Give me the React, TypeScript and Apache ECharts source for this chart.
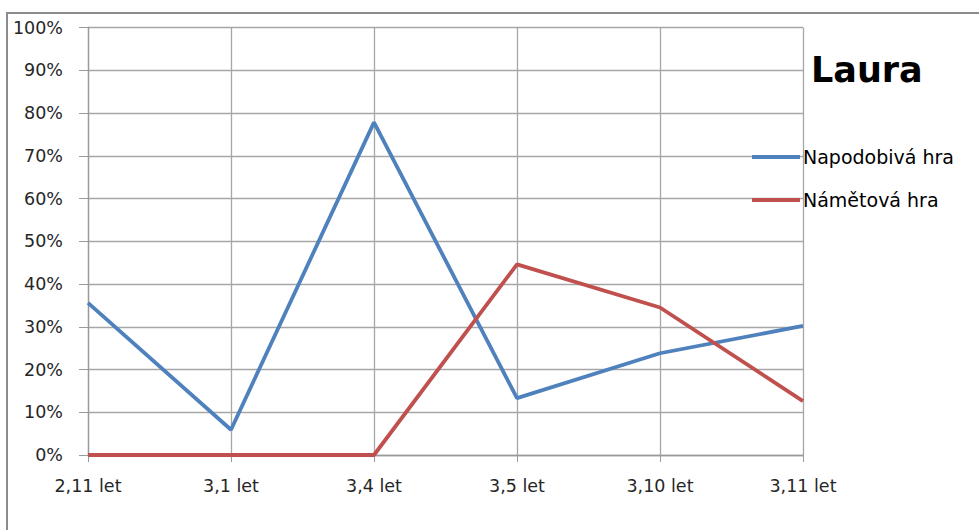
import React, { useEffect, useRef } from "react";
import * as echarts from "echarts";

const categories = ["2,11 let", "3,1 let", "3,4 let", "3,5 let", "3,10 let", "3,11 let"];
const imitativePlay = [35.6, 5.9, 77.8, 13.3, 23.8, 30.2];
const rolePlay = [0, 0, 0, 44.6, 34.5, 12.6];
const seriesNames = ["Napodobivá hra", "Námětová hra"];
const yTicks = { min: 0, max: 100, interval: 10 };

const FONT = "'DejaVu Sans', 'Liberation Sans', sans-serif";

export default function App() {
  const ref = useRef<HTMLDivElement>(null);

  useEffect(() => {
    if (!ref.current) return;
    const chart = echarts.init(ref.current, undefined, { renderer: "svg" });
    chart.setOption({
      animation: false,
      backgroundColor: "#ffffff",
      title: {
        text: "Laura",
        left: 806,
        top: 47,
        textStyle: { fontFamily: FONT, fontSize: 35, fontWeight: "bold", color: "#000000" },
      },
      graphic: [
        {
          type: "rect",
          shape: { x: 7, y: 13, width: 1000, height: 600 },
          style: { fill: "none", stroke: "#8c8c8c", lineWidth: 2 },
          silent: true,
        },
      ],
      legend: {
        orient: "vertical",
        left: 752,
        top: 147,
        padding: 0,
        itemGap: 23,
        itemWidth: 48,
        itemHeight: 4,
        icon: "rect",
        textStyle: {
          fontFamily: FONT,
          fontSize: 19,
          lineHeight: 20,
          color: "#000000",
          padding: [0, 0, 0, -2],
        },
        data: seriesNames,
      },
      grid: { left: 88, right: 176, top: 27.5, bottom: 75, containLabel: false },
      xAxis: {
        type: "category",
        data: categories,
        boundaryGap: false,
        axisLine: { lineStyle: { color: "#9a9a9a", width: 1.3 } },
        axisTick: { show: true, length: 7, lineStyle: { color: "#9a9a9a" } },
        axisLabel: { fontFamily: FONT, fontSize: 17.5, color: "#262626", margin: 22 },
        splitLine: { show: true, lineStyle: { color: "#a6a6a6", width: 1.3 } },
      },
      yAxis: {
        type: "value",
        min: yTicks.min,
        max: yTicks.max,
        interval: yTicks.interval,
        axisLine: { show: true, lineStyle: { color: "#9a9a9a", width: 1.3 } },
        axisTick: { show: true, length: 9, lineStyle: { color: "#9a9a9a" } },
        axisLabel: { fontFamily: FONT, fontSize: 17.5, color: "#262626", margin: 25, formatter: "{value}%" },
        splitLine: { show: true, lineStyle: { color: "#a6a6a6", width: 1.3 } },
      },
      series: [
        {
          name: seriesNames[0],
          type: "line",
          data: imitativePlay,
          symbol: "none",
          lineStyle: { color: "#4f81bd", width: 3.8 },
          itemStyle: { color: "#4f81bd" },
        },
        {
          name: seriesNames[1],
          type: "line",
          data: rolePlay,
          symbol: "none",
          lineStyle: { color: "#c0504d", width: 3.8 },
          itemStyle: { color: "#c0504d" },
        },
      ],
    });
    return () => chart.dispose();
  }, []);

  return (
    <div
      ref={ref}
      style={{ position: "fixed", left: 0, top: 0, width: 979, height: 530, background: "#fff" }}
    />
  );
}
